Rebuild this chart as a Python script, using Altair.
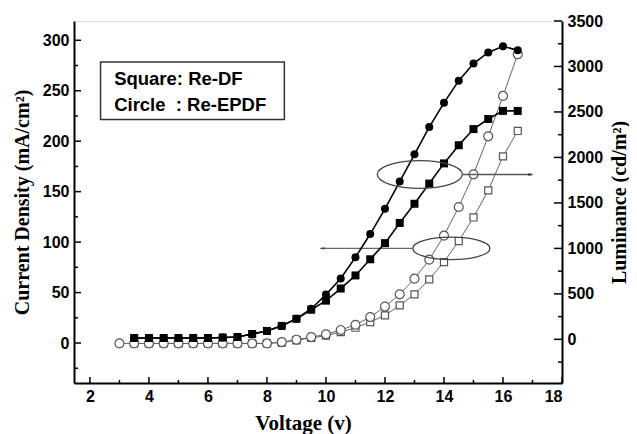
import altair as alt
import pandas as pd

# ---------------- data ----------------
voltage_j = [3.5, 4.0, 4.5, 5.0, 5.5, 6.0, 6.5, 7.0, 7.5, 8.0, 8.5, 9.0, 9.5, 10.0,
             10.5, 11.0, 11.5, 12.0, 12.5, 13.0, 13.5, 14.0, 14.5, 15.0, 15.5, 16.0, 16.5]
current_re_epdf = [5, 5, 5, 5, 5, 5, 5.5, 6, 9, 12, 17, 24, 34, 48,
                   64, 85, 108, 133, 160, 187, 214, 238, 260, 277, 288, 294, 290]
current_re_df = [5, 5, 5, 5, 5, 5, 5.5, 6, 9, 12, 17, 24, 33, 42,
                 54, 67, 83, 99, 119, 138, 158, 178, 196, 212, 222, 230, 230]

voltage_l_epdf = [3.0, 3.5, 4.0, 4.5, 5.0, 5.5, 6.0, 6.5, 7.0, 7.5, 8.0, 8.5, 9.0, 9.5,
                  10.0, 10.5, 11.0, 11.5, 12.0, 12.5, 13.0, 13.5, 14.0, 14.5, 15.0, 15.5, 16.0, 16.5]
lum_re_epdf = [-45, -45, -45, -45, -45, -45, -45, -45, -45, -45, -45, -30, -4, 25,
               55, 103, 160, 245, 360, 495, 667, 876, 1140, 1455, 1814, 2232, 2676, 3134]

voltage_l_df = [3.5, 4.0, 4.5, 5.0, 5.5, 6.0, 6.5, 7.0, 7.5, 8.0, 8.5, 9.0, 9.5, 10.0,
                10.5, 11.0, 11.5, 12.0, 12.5, 13.0, 13.5, 14.0, 14.5, 15.0, 15.5, 16.0, 16.5]
lum_re_df = [-45, -45, -45, -45, -45, -45, -45, -45, -45, -45, -35, -10, 15, 40,
             80, 128, 190, 264, 374, 495, 660, 850, 1081, 1340, 1638, 2012, 2291]

x_ticks = [2, 4, 6, 8, 10, 12, 14, 16, 18]
x_minor = [3, 5, 7, 9, 11, 13, 15, 17]
j_ticks = [0, 50, 100, 150, 200, 250, 300]
j_minor = [-25, 25, 75, 125, 175, 225, 275]
l_ticks = [0, 500, 1000, 1500, 2000, 2500, 3000, 3500]
l_minor = [-250, 250, 750, 1250, 1750, 2250, 2750, 3250]

legend_lines = ["Square: Re-DF", "Circle\u00a0\u00a0: Re-EPDF"]

# ---------------- layout / style ----------------
W, H = 488, 362
X_DOM = [1.46, 18.0]
J_DOM = [-39.6, 319.1]
L_DOM = [-480, 3500]
SANS = "Liberation Sans"
SERIF = "Liberation Serif"

# annotation geometry (data units)
box = {"x1": 2.36, "x2": 8.59, "y1": 278.5, "y2": 221.6}
text_pos = {"x": [2.82, 2.82], "y": [255.4, 229.6]}
ell1 = {"x": 13.18, "y": 167}
arrow1 = {"x1": 14.63, "x2": 17.0, "y": 167}
ell2 = {"x": 14.25, "y": 1000}
arrow2 = {"x1": 12.93, "x2": 9.81, "y": 1000}


def ellipse_path(r):
    k = 0.5523
    rk = r * k
    return (f"M -1 0 C -1 {-rk} {-k} {-r} 0 {-r} C {k} {-r} 1 {-rk} 1 0 "
            f"C 1 {rk} {k} {r} 0 {r} C {-k} {r} -1 {rk} -1 0 Z")


HEAD_RIGHT = "M 0 0 L -2 -0.7 L -2 0.7 Z"
HEAD_LEFT = "M 0 0 L 2 -0.7 L 2 0.7 Z"


def xenc(field):
    return alt.X(f"{field}:Q",
                 scale=alt.Scale(domain=X_DOM, nice=False, zero=False),
                 axis=alt.Axis(values=x_ticks, format="d", ticks=False, tickSize=0,
                               grid=False, labelPadding=5, labelFont=SANS,
                               labelFontSize=16, labelFontWeight="bold", labelColor="black",
                               domainColor="black", domainWidth=2,
                               title="Voltage (v)", titleFont=SERIF, titleFontSize=21,
                               titleFontWeight="bold", titleColor="black", titlePadding=8,
                               titleX=229))


def yj(field):
    return alt.Y(f"{field}:Q",
                 scale=alt.Scale(domain=J_DOM, nice=False, zero=False),
                 axis=alt.Axis(orient="left", values=j_ticks, format="d", ticks=False,
                               tickSize=0, grid=False, labelPadding=5, labelFont=SANS,
                               labelFontSize=16, labelFontWeight="bold", labelColor="black",
                               domainColor="black", domainWidth=2,
                               title="Current Density (mA/cm²)", titleFont=SERIF,
                               titleFontSize=20, titleFontWeight="bold", titleColor="black",
                               titlePadding=10))


def yl(field):
    return alt.Y(f"{field}:Q",
                 scale=alt.Scale(domain=L_DOM, nice=False, zero=False),
                 axis=alt.Axis(orient="right", values=l_ticks, format="d", ticks=False,
                               tickSize=0, grid=False, labelPadding=5, labelFont=SANS,
                               labelFontSize=16, labelFontWeight="bold", labelColor="black",
                               domainColor="black", domainWidth=2,
                               title="Luminance (cd/m²)", titleFont=SERIF,
                               titleFontSize=20, titleFontWeight="bold", titleColor="black",
                               titleAngle=270, titlePadding=27))


# ---------------- current density (left axis, filled symbols) ----------------
df_j_epdf = pd.DataFrame({"V": voltage_j, "J": current_re_epdf})
df_j_df = pd.DataFrame({"V": voltage_j, "J": current_re_df})

j_line_c = alt.Chart(df_j_epdf).mark_line(color="black", strokeWidth=1.6).encode(x=xenc("V"), y=yj("J"))
j_pts_c = alt.Chart(df_j_epdf).mark_point(shape="circle", filled=True, color="black", size=64,
                                          opacity=1).encode(x=xenc("V"), y=yj("J"))
j_line_s = alt.Chart(df_j_df).mark_line(color="black", strokeWidth=1.6).encode(x=xenc("V"), y=yj("J"))
j_pts_s = alt.Chart(df_j_df).mark_point(shape="square", filled=True, color="black", size=64,
                                        opacity=1).encode(x=xenc("V"), y=yj("J"))

j_major = alt.Chart(pd.DataFrame({"t": j_ticks})).mark_rule(color="black", strokeWidth=1.5).encode(
    y=yj("t"), x=alt.value(0), x2=alt.value(7))
j_minor_r = alt.Chart(pd.DataFrame({"t": j_minor})).mark_rule(color="black", strokeWidth=1.5).encode(
    y=yj("t"), x=alt.value(0), x2=alt.value(4))

box_rect = alt.Chart(pd.DataFrame([box])).mark_rect(fill="white", stroke="#333333", strokeWidth=1.5).encode(
    x=xenc("x1"), x2="x2:Q", y=yj("y1"), y2="y2:Q")
box_text = alt.Chart(pd.DataFrame({"x": text_pos["x"], "y": text_pos["y"], "label": legend_lines})).mark_text(
    align="left", baseline="alphabetic", font=SANS, fontSize=18.5, fontWeight="bold", color="black").encode(
    x=xenc("x"), y=yj("y"), text="label:N")

ell1_mark = alt.Chart(pd.DataFrame([ell1])).mark_point(
    shape=ellipse_path(0.325), size=85 * 85, filled=False, stroke="#444444", strokeWidth=1.3,
    opacity=1).encode(x=xenc("x"), y=yj("y"))
arrow1_line = alt.Chart(pd.DataFrame([arrow1])).mark_rule(color="#555555", strokeWidth=1.3).encode(
    x=xenc("x1"), x2="x2:Q", y=yj("y"))
arrow1_head = alt.Chart(pd.DataFrame([arrow1])).mark_point(
    shape=HEAD_RIGHT, size=16, filled=True, color="#333333", opacity=1).encode(x=xenc("x2"), y=yj("y"))

cur_group = alt.layer(j_major, j_minor_r, box_rect, box_text, j_line_c, j_pts_c, j_line_s, j_pts_s,
                      ell1_mark, arrow1_line, arrow1_head)

# ---------------- luminance (right axis, open symbols) ----------------
df_l_epdf = pd.DataFrame({"V": voltage_l_epdf, "L": lum_re_epdf})
df_l_df = pd.DataFrame({"V": voltage_l_df, "L": lum_re_df})

OPEN = "#555555"
l_line_s = alt.Chart(df_l_df).mark_line(color="#666666", strokeWidth=1).encode(x=xenc("V"), y=yl("L"))
l_pts_s = alt.Chart(df_l_df).mark_point(shape="square", filled=True, fill="white", stroke=OPEN,
                                        strokeWidth=1.2, size=50, opacity=1).encode(x=xenc("V"), y=yl("L"))
l_line_c = alt.Chart(df_l_epdf).mark_line(color="#666666", strokeWidth=1).encode(x=xenc("V"), y=yl("L"))
l_pts_c = alt.Chart(df_l_epdf).mark_point(shape="circle", filled=True, fill="white", stroke=OPEN,
                                          strokeWidth=1.2, size=80, opacity=1).encode(x=xenc("V"), y=yl("L"))

l_major = alt.Chart(pd.DataFrame({"t": l_ticks})).mark_rule(color="black", strokeWidth=1.5).encode(
    y=yl("t"), x=alt.value(W), x2=alt.value(W - 8))
l_minor_r = alt.Chart(pd.DataFrame({"t": l_minor})).mark_rule(color="black", strokeWidth=1.5).encode(
    y=yl("t"), x=alt.value(W), x2=alt.value(W - 4))
x_major = alt.Chart(pd.DataFrame({"t": x_ticks})).mark_rule(color="black", strokeWidth=1.5).encode(
    x=xenc("t"), y=alt.value(H), y2=alt.value(H - 6))
x_minor_r = alt.Chart(pd.DataFrame({"t": x_minor})).mark_rule(color="black", strokeWidth=1.5).encode(
    x=xenc("t"), y=alt.value(H), y2=alt.value(H - 3))

ell2_mark = alt.Chart(pd.DataFrame([ell2])).mark_point(
    shape=ellipse_path(0.29), size=77 * 77, filled=False, stroke="#444444", strokeWidth=1.3,
    opacity=1).encode(x=xenc("x"), y=yl("y"))
arrow2_line = alt.Chart(pd.DataFrame([arrow2])).mark_rule(color="#666666", strokeWidth=1.3).encode(
    x=xenc("x1"), x2="x2:Q", y=yl("y"))
arrow2_head = alt.Chart(pd.DataFrame([arrow2])).mark_point(
    shape=HEAD_LEFT, size=16, filled=True, color="#444444", opacity=1).encode(x=xenc("x2"), y=yl("y"))

lum_group = alt.layer(l_major, l_minor_r, x_major, x_minor_r, l_line_s, l_pts_s, l_line_c, l_pts_c,
                      ell2_mark, arrow2_line, arrow2_head)

chart = alt.layer(lum_group, cur_group).resolve_scale(y="independent").properties(
    width=W, height=H,
    autosize=alt.AutoSizeParams(type="none"),
    padding={"left": 66, "top": 13, "right": 67, "bottom": 51},
).configure_view(stroke="black", strokeWidth=2).configure(background="white")

chart.save("out.html", embed_options={"renderer": "svg", "actions": False})
